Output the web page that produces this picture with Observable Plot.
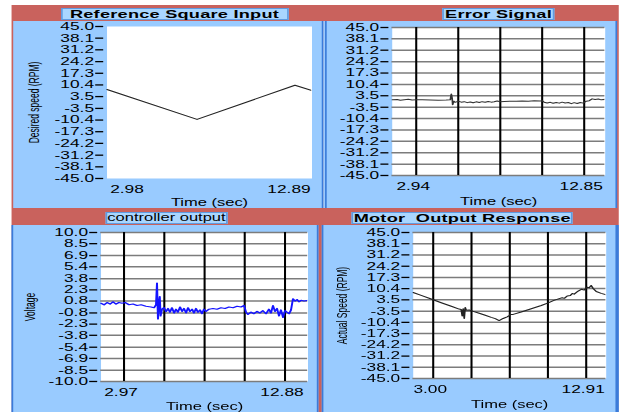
<!DOCTYPE html>
<html><head><meta charset="utf-8">
<script src="https://cdn.jsdelivr.net/npm/d3@7"></script>
<script src="https://cdn.jsdelivr.net/npm/@observablehq/plot@0.6"></script>
<style>
html,body{margin:0;padding:0;background:#fff;width:621px;height:412px;overflow:hidden}
#wrap{position:absolute;left:0;top:0;width:376.4px;height:412px;transform:scaleX(1.65);transform-origin:0 0;font-family:"Liberation Sans",Arial,sans-serif}
</style></head><body><div id="wrap"></div>
<script>
// ---------- data ----------
const refTime = [1.57, 7.08, 13.07, 14.11];
const refSpeed = [7.7, -10.0, 10.2, 7.0];

const errTime = [1.52,1.82,2.00,2.23,2.47,2.70,2.94,3.29,3.77,4.24,4.71,4.95,5.01,5.06,5.09,5.15,5.24,5.42,5.60,5.77,5.95,6.13,6.30,6.48,6.66,6.83,7.01,7.19,7.37,7.54,7.72,7.90,8.13,8.49,8.84,9.19,9.55,9.90,10.26,10.37,10.49,10.67,10.85,11.02,11.20,11.38,11.55,11.73,11.91,12.09,12.26,12.44,12.62,12.79,12.97,13.15,13.32,13.50,13.68,13.86,14.09];
const errValue = [1.0,1.2,0.8,1.1,1.3,0.9,1.0,1.0,0.9,0.8,0.9,1.0,4.5,2.0,-2.0,0.2,-0.5,0.2,-0.4,-0.1,-0.7,-0.3,-0.8,-0.2,-0.6,-0.1,-0.5,0.0,-0.4,-0.2,0.3,-0.1,0.0,0.2,0.1,0.3,0.2,0.4,0.3,0.5,-0.5,-0.9,-0.5,-1.1,-0.6,-1.0,-0.4,-0.9,-0.6,-1.3,-0.7,-1.2,-0.6,-1.0,0.2,0.5,1.6,1.2,1.5,1.0,1.3];

const ctrlTime = [1.55,1.74,1.92,2.11,2.29,2.48,2.66,2.85,3.03,3.28,3.52,3.77,4.02,4.32,4.63,4.82,4.94,5.00,5.06,5.12,5.17,5.22,5.31,5.43,5.56,5.68,5.80,5.92,6.05,6.17,6.29,6.42,6.54,6.66,6.79,6.91,7.03,7.16,7.28,7.40,7.52,7.65,7.77,7.89,8.02,8.20,8.45,8.69,8.94,9.19,9.43,9.68,9.93,10.17,10.36,10.48,10.60,10.79,10.97,11.16,11.34,11.52,11.71,11.89,12.02,12.14,12.26,12.39,12.51,12.63,12.76,12.88,13.00,13.13,13.25,13.37,13.50,13.62,13.74,13.87,14.05,14.30];
const ctrlVolt = [0.5,0.3,0.6,0.4,0.7,0.4,0.6,0.5,0.6,0.3,0.4,0.2,0.3,0.1,0.0,-0.1,0.3,3.2,-1.6,0.5,1.4,-1.2,-0.3,-0.1,-0.6,-0.2,-0.7,-0.1,-0.8,-0.3,-0.7,0.0,-0.6,-0.2,-0.8,-0.1,-0.6,-0.3,-0.8,-0.2,-0.7,-0.4,-0.9,-0.3,-0.6,-0.3,-0.2,-0.3,-0.1,-0.2,0.0,-0.1,0.1,0.0,0.2,-0.7,-1.0,-0.7,-0.9,-0.6,-0.8,-0.5,-0.9,-0.3,-0.8,0.2,-0.6,-0.2,-1.2,-0.4,-1.4,-0.5,-0.7,-0.9,-0.4,1.1,0.8,1.0,0.7,0.9,0.8,0.9];

const motorTime = [1.70,2.22,2.87,3.52,4.17,4.68,4.81,4.88,4.94,5.01,5.07,5.14,5.33,5.59,5.98,6.37,6.76,7.02,7.27,7.53,7.79,7.92,7.99,8.18,8.70,9.35,10.00,10.45,10.78,11.16,11.36,11.49,11.68,11.88,12.01,12.13,12.33,12.59,12.78,12.97,13.10,13.23,13.36,13.56,13.88,14.21];
const motorSpeed = [8.0,6.2,4.0,1.7,-0.5,-2.2,-2.5,-6.5,-2.0,-8.0,-1.2,-3.0,-2.8,-3.6,-4.8,-6.0,-7.3,-8.1,-9.3,-8.0,-7.0,-6.2,-5.5,-5.5,-4.0,-2.0,0.0,1.6,3.0,4.2,4.8,4.4,5.9,6.2,7.4,7.0,8.5,10.0,9.6,11.3,11.0,12.3,10.5,8.6,7.5,6.6];

const rpmTickLabels = ["45.0","38.1","31.2","24.2","17.3","10.4","3.5","-3.5","-10.4","-17.3","-24.2","-31.2","-38.1","-45.0"];
const voltTickLabels = ["10.0","8.5","6.9","5.4","3.8","2.3","0.8","-0.8","-2.3","-3.8","-5.4","-6.9","-8.5","-10.0"];

const refXTicks = [2.98, 12.89];
const errXTicks = [2.94, 12.85];
const ctrlXTicks = [2.97, 12.88];
const motorXTicks = [3.00, 12.91];

const errGrid = [2.94, 5.42, 7.90, 10.37, 12.85];
const ctrlGrid = [2.97, 5.45, 7.93, 10.40, 12.88];
const motorGrid = [3.00, 5.48, 7.96, 10.43, 12.91];

const titles = ["Reference Square Input", "Error Signal", "controller output", "Motor  Output Response"];
const yAxisTitles = ["Desired speed (RPM)", "Voltage", "Actual Speed (RPM)"];

// ---------- layout ----------
const S = 1.65;
const wrap = document.getElementById("wrap");
function rect(x0, y0, x1, y1, color) {
  const d = document.createElement("div");
  Object.assign(d.style, {position:"absolute", left:(x0/S)+"px", top:y0+"px", width:((x1-x0)/S)+"px", height:(y1-y0)+"px", background:color});
  wrap.appendChild(d); return d;
}
function titleBox(text, x0, y0, x1, y1, bold, size) {
  const d = rect(x0, y0, x1, y1, "#a9d6ff");
  d.textContent = text;
  Object.assign(d.style, {border:"1px solid #5f9be0", boxSizing:"border-box", fontWeight: bold ? "bold" : "normal",
    fontSize: size+"px", lineHeight:(y1-y0-2)+"px", textAlign:"center", whiteSpace:"pre",
    letterSpacing: bold ? "0.15px" : "0px", color:"#000"});
}
const RED = "#c9625d", BLUE = "#99cbff", DARK = "#3b7bd9";
rect(12, 5, 618, 412, RED);
rect(13, 21, 323, 208, BLUE);
rect(322, 21, 324, 208, DARK);
rect(324, 21, 617, 208, BLUE);
rect(325, 21, 327, 208, DARK);
rect(615, 21, 617, 208, DARK);
rect(12, 225, 318, 412, BLUE);
rect(12, 225, 13.5, 412, DARK);
rect(316.5, 225, 318, 412, DARK);
rect(322, 225, 618, 412, BLUE);
rect(322, 225, 323.5, 412, DARK);
rect(616, 225, 618, 412, DARK);

titleBox(titles[0], 61, 7.5, 288, 19.5, true, 11);
titleBox(titles[1], 442, 7.5, 555, 19.5, true, 11);
titleBox(titles[2], 105, 211.5, 228, 223.5, false, 10);
titleBox(titles[3], 352, 211.5, 572, 223.5, true, 11);

function panel(cfg) {
  const lab = new Map(cfg.yTicks.map((v, i) => [v, cfg.yLabels[i]]));
  const data = cfg.t.map((t, i) => ({t, v: cfg.v[i]}));
  const marks = [Plot.frame({fill: "white", stroke: "none"})];
  if (cfg.grid) {
    marks.push(Plot.ruleY(cfg.yTicks, {stroke: "#7c7c7c", strokeWidth: 1.5}));
    marks.push(Plot.ruleX(cfg.grid, {stroke: "#000", strokeWidth: 1.25}));
  }
  marks.push(Plot.line(data, {x: "t", y: "v", stroke: cfg.color, strokeWidth: cfg.sw, clip: true}));
  marks.push(Plot.axisY(cfg.yTicks, {tickSize: 8/S, tickPadding: 2/S, dx: -3/S, tickFormat: d => lab.get(d), fontSize: 10.5, label: null, strokeWidth: 1.3}));
  marks.push(Plot.axisX(cfg.xTicks, {tickSize: 0, tickPadding: 7, dx: -3/S, tickFormat: d3.format(".2f"), fontSize: 10.5, label: null}));
  if (cfg.ylabel) marks.push(Plot.text([cfg.ylabel], {text: d => d, frameAnchor: "left", textAnchor: "middle", lineAnchor: "middle", rotate: -90, dx: cfg.ylabDx/S, fontSize: 8.5}));
  marks.push(Plot.text(["Time (sec)"], {text: d => d, frameAnchor: "bottom", textAnchor: "middle", lineAnchor: "middle", dy: cfg.tDy, fontSize: 10}));
  const chart = Plot.plot({
    width: cfg.w/S, height: cfg.h,
    marginLeft: cfg.ml/S, marginRight: cfg.mr/S, marginTop: cfg.mt, marginBottom: cfg.mb,
    x: {domain: cfg.xDomain}, y: {domain: cfg.yDomain},
    style: {background: "transparent", fontFamily: "'Liberation Sans', Arial, sans-serif", color: "#000", overflow: "visible"},
    marks
  });
  Object.assign(chart.style, {position: "absolute", left: (cfg.left/S)+"px", top: cfg.top+"px"});
  wrap.appendChild(chart);
}

panel({left: 13, top: 21, w: 309, h: 187, ml: 93, mr: 11, mt: 5, mb: 30,
  xDomain: [1.573, 14.113], yDomain: [-45, 45], yTicks: rpmTickLabels.map(Number), yLabels: rpmTickLabels,
  xTicks: refXTicks, grid: null, t: refTime, v: refSpeed, color: "#222", sw: 1,
  ylabel: yAxisTitles[0], ylabDx: -73, tDy: 24});
panel({left: 324, top: 21, w: 294, h: 187, ml: 68, mr: 13, mt: 6, mb: 33,
  xDomain: [1.524, 14.089], yDomain: [-45, 45], yTicks: rpmTickLabels.map(Number), yLabels: rpmTickLabels,
  xTicks: errXTicks, grid: errGrid, t: errTime, v: errValue, color: "#333", sw: 1,
  ylabel: null, tDy: 26});
panel({left: 13, top: 225, w: 305, h: 187, ml: 87, mr: 11, mt: 7, mb: 31,
  xDomain: [1.554, 14.296], yDomain: [-10, 10], yTicks: voltTickLabels.map(Number), yLabels: voltTickLabels,
  xTicks: ctrlXTicks, grid: ctrlGrid, t: ctrlTime, v: ctrlVolt, color: "#1414ff", sw: 1.2,
  ylabel: yAxisTitles[1], ylabDx: -71, tDy: 25});
panel({left: 323, top: 225, w: 294, h: 187, ml: 89, mr: 12, mt: 7, mb: 34,
  xDomain: [1.705, 14.205], yDomain: [-45, 45], yTicks: rpmTickLabels.map(Number), yLabels: rpmTickLabels,
  xTicks: motorXTicks, grid: motorGrid, t: motorTime, v: motorSpeed, color: "#222", sw: 1,
  ylabel: yAxisTitles[2], ylabDx: -71, tDy: 26});
</script>
</body></html>
